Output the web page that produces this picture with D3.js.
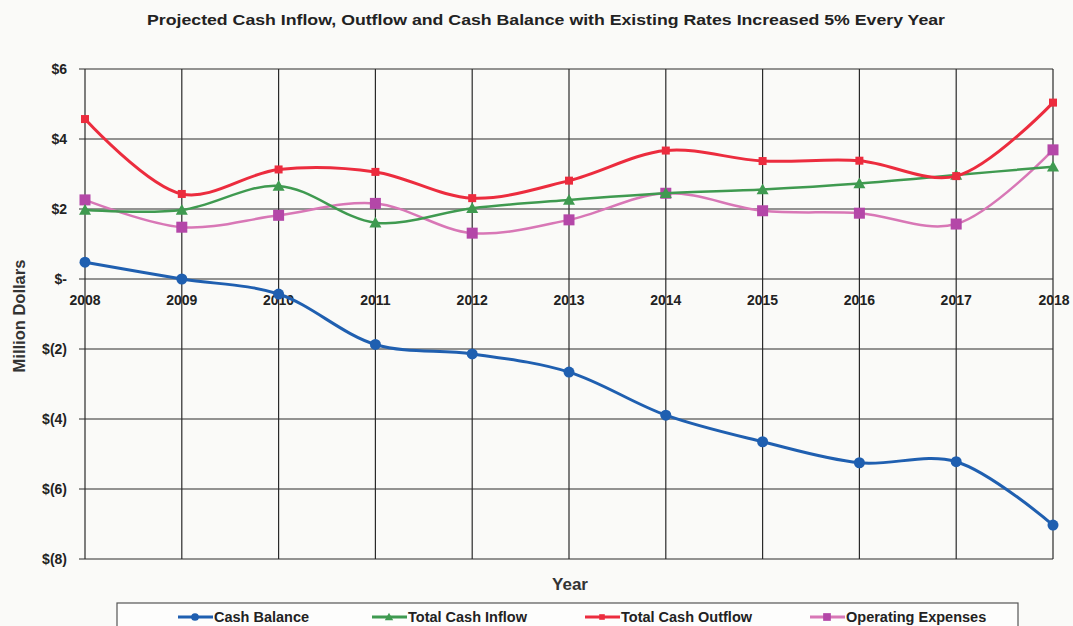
<!DOCTYPE html>
<html>
<head>
<meta charset="utf-8">
<script src="https://cdn.jsdelivr.net/npm/d3@7"></script>
<style>
  html, body { margin: 0; padding: 0; background: #fafaf8; }
  svg { display: block; font-family: Arial, "Liberation Sans", sans-serif; }
</style>
</head>
<body>
<svg id="chart" width="1073" height="626"></svg>
<script>
// Projection years and series (million dollars)
const years = [2008, 2009, 2010, 2011, 2012, 2013, 2014, 2015, 2016, 2017, 2018];
const cashBalance     = [0.48, 0.0, -0.43, -1.87, -2.14, -2.66, -3.89, -4.65, -5.25, -5.22, -7.03];
const totalCashInflow = [1.97, 1.97, 2.66, 1.61, 2.02, 2.26, 2.45, 2.56, 2.73, 2.97, 3.21];
const totalCashOutflow= [4.57, 2.43, 3.13, 3.06, 2.31, 2.81, 3.67, 3.37, 3.38, 2.94, 5.04];
const operatingExpenses=[2.26, 1.48, 1.82, 2.16, 1.31, 1.69, 2.45, 1.95, 1.88, 1.57, 3.69];
const yTicks = [6, 4, 2, 0, -2, -4, -6, -8];

const series = [
  { name: "Cash Balance",       values: cashBalance,       line: "#1f5fb0", marker: "#1f5fb0", shape: "circle",   width: 3 },
  { name: "Total Cash Inflow",  values: totalCashInflow,   line: "#3f9a50", marker: "#3f9a50", shape: "triangle", width: 2.5 },
  { name: "Total Cash Outflow", values: totalCashOutflow,  line: "#ec2c3e", marker: "#ec2c3e", shape: "square",   width: 3 },
  { name: "Operating Expenses", values: operatingExpenses, line: "#d877b6", marker: "#b447a8", shape: "bigsquare",width: 2.5 }
];

const svg = d3.select("#chart");
const plotLeft = 85, plotRight = 1053, plotTop = 69, plotBottom = 559;

const x = d3.scalePoint().domain(years).range([plotLeft, plotRight]);
const y = d3.scaleLinear().domain([-8, 6]).range([plotBottom, plotTop]);

const fmt = v => v === 0 ? "$-" : (v < 0 ? `$(${-v})` : `$${v}`);

// Title
svg.append("text")
  .attr("x", 147).attr("y", 25)
  .attr("font-size", 15).attr("font-weight", "bold").attr("fill", "#222")
  .attr("textLength", 798).attr("lengthAdjust", "spacingAndGlyphs")
  .text("Projected Cash Inflow, Outflow and Cash Balance with Existing Rates Increased 5% Every Year");

// Horizontal grid lines
svg.append("g").selectAll("line").data(yTicks).join("line")
  .attr("x1", plotLeft - 6).attr("x2", plotRight)
  .attr("y1", d => y(d)).attr("y2", d => y(d))
  .attr("stroke", "#2a2a2a").attr("stroke-width", 1.2);

// Vertical grid lines
svg.append("g").selectAll("line").data(years).join("line")
  .attr("x1", d => x(d)).attr("x2", d => x(d))
  .attr("y1", plotTop).attr("y2", plotBottom)
  .attr("stroke", "#2a2a2a").attr("stroke-width", 1.2);

// Y axis labels
svg.append("g").selectAll("text").data(yTicks).join("text")
  .attr("x", 67).attr("y", d => y(d) + 5)
  .attr("text-anchor", "end")
  .attr("font-size", 14).attr("font-weight", "bold").attr("fill", "#222")
  .text(fmt);

// Year labels sit just below the zero line
svg.append("g").selectAll("text").data(years).join("text")
  .attr("x", d => x(d) + (d === 2018 ? 1 : 0)).attr("y", y(0) + 26)
  .attr("text-anchor", "middle")
  .attr("font-size", 14).attr("font-weight", "bold").attr("fill", "#222")
  .text(d => d);

// Axis titles
svg.append("text")
  .attr("x", 570).attr("y", 590)
  .attr("text-anchor", "middle")
  .attr("font-size", 17).attr("font-weight", "bold").attr("fill", "#333")
  .text("Year");

svg.append("text")
  .attr("transform", "translate(25,316) rotate(-90)")
  .attr("text-anchor", "middle")
  .attr("font-size", 16.5).attr("font-weight", "bold").attr("fill", "#333")
  .text("Million Dollars");

// Smoothed series lines
const line = d3.line()
  .x((d, i) => x(years[i]))
  .y(d => y(d))
  .curve(d3.curveCatmullRom.alpha(0.5));

function drawMarker(g, shape, color, cx, cy, scale = 1) {
  if (shape === "circle") {
    g.append("circle").attr("cx", cx).attr("cy", cy).attr("r", 5.5 * scale).attr("fill", color);
  } else if (shape === "triangle") {
    const s = 6 * scale;
    g.append("path")
      .attr("d", `M${cx},${cy - s}L${cx + s},${cy + s * 0.8}L${cx - s},${cy + s * 0.8}Z`)
      .attr("fill", color);
  } else if (shape === "square") {
    const s = 4 * scale;
    g.append("rect").attr("x", cx - s).attr("y", cy - s).attr("width", 2 * s).attr("height", 2 * s).attr("fill", color);
  } else {
    const s = 5.5 * scale;
    g.append("rect").attr("x", cx - s).attr("y", cy - s).attr("width", 2 * s).attr("height", 2 * s).attr("fill", color);
  }
}

// Draw in stacking order: operating expenses, inflow, outflow, balance
const order = [3, 1, 2, 0];
order.forEach(k => {
  const s = series[k];
  const g = svg.append("g");
  g.append("path")
    .attr("d", line(s.values))
    .attr("fill", "none")
    .attr("stroke", s.line)
    .attr("stroke-width", s.width)
    .attr("stroke-linejoin", "round");
  s.values.forEach((v, i) => drawMarker(g, s.shape, s.marker, x(years[i]), y(v)));
});

// Legend
const legend = svg.append("g");
legend.append("rect")
  .attr("x", 117).attr("y", 603).attr("width", 901).attr("height", 40)
  .attr("fill", "#fdfdfc").attr("stroke", "#555").attr("stroke-width", 1.2);

const legendX = [178, 372, 585, 810];
series.forEach((s, i) => {
  const lx = legendX[i], ly = 617;
  legend.append("line")
    .attr("x1", lx).attr("x2", lx + 35).attr("y1", ly).attr("y2", ly)
    .attr("stroke", s.line).attr("stroke-width", 3);
  drawMarker(legend, s.shape, s.marker, lx + 17, ly, 0.7);
  legend.append("text")
    .attr("x", lx + 36).attr("y", ly + 5)
    .attr("font-size", 14.5).attr("font-weight", "bold").attr("fill", "#222")
    .text(s.name);
});
</script>
</body>
</html>
